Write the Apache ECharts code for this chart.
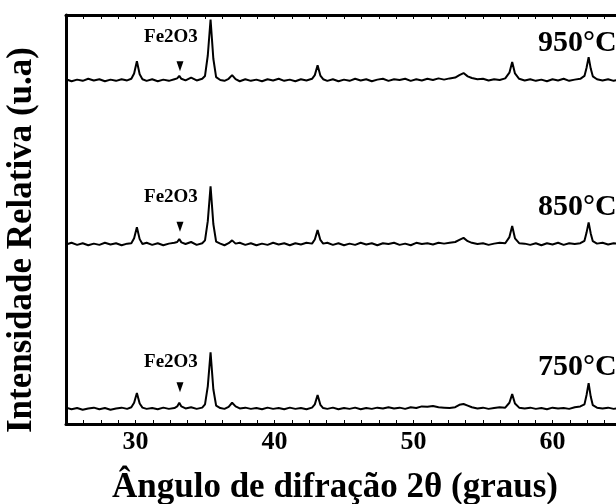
<!DOCTYPE html>
<html>
<head>
<meta charset="utf-8">
<script src="https://cdn.jsdelivr.net/npm/echarts@6/dist/echarts.min.js"></script>
<style>
  html, body { margin: 0; background: #fff; }
  #chart { width: 616px; height: 504px; }
</style>
</head>
<body>
<div id="chart"></div>
<script>
// 2theta (degrees), shared by the three patterns
const angles = [
    25.0, 25.4, 25.8, 26.2, 26.6, 27.0, 27.4, 27.8, 28.2, 28.6,
    29.0, 29.4, 29.7, 29.9, 30.1, 30.3, 30.5, 30.8, 31.2, 31.6,
    32.0, 32.4, 32.8, 33.0, 33.15, 33.3, 33.6, 34.0, 34.4, 34.8,
    35.0, 35.2, 35.4, 35.6, 35.8, 36.1, 36.4, 36.7, 36.95, 37.2,
    37.5, 37.9, 38.3, 38.7, 39.1, 39.5, 39.9, 40.3, 40.7, 41.1,
    41.5, 41.9, 42.3, 42.7, 42.9, 43.1, 43.3, 43.5, 43.8, 44.2,
    44.6, 45.0, 45.4, 45.8, 46.2, 46.6, 47.0, 47.4, 47.8, 48.2,
    48.6, 49.0, 49.4, 49.8, 50.2, 50.6, 51.0, 51.4, 51.8, 52.2,
    52.6, 53.0, 53.3, 53.6, 53.9, 54.2, 54.6, 55.0, 55.4, 55.8,
    56.2, 56.6, 56.9, 57.1, 57.3, 57.6, 58.0, 58.4, 58.8, 59.2,
    59.6, 60.0, 60.4, 60.8, 61.2, 61.6, 62.0, 62.3, 62.45, 62.6,
    62.75, 62.9, 63.2, 63.6, 64.0, 64.4, 64.8
];

// relative intensity (u.a), measured above each pattern's baseline
const int950 = [
    0.2, -0.3, 0.1, -0.2, 0.3, -0.1, 0.2, -0.3, 0.1, -0.2,
    0.2, -0.1, 0.3, 1.6, 4.6, 1.4, 0.2, -0.2, 0.2, -0.3,
    0.1, -0.2, 0.2, 0.4, 1.0, 0.3, -0.1, 0.6, -0.1, 0.3,
    1.0, 6.0, 14.8, 5.2, 0.7, 0.0, -0.2, 0.3, 1.2, 0.2,
    -0.3, 0.2, -0.2, 0.1, -0.3, 0.2, -0.1, 0.3, -0.2, 0.1,
    -0.3, 0.2, -0.1, 0.3, 1.2, 3.6, 1.1, 0.2, -0.2, 0.2,
    -0.3, 0.1, -0.2, 0.3, -0.1, 0.2, -0.3, 0.1, 0.3, -0.2,
    0.2, 0.0, 0.3, -0.2, 0.2, -0.1, 0.3, 0.0, 0.4, 0.1,
    0.4, 0.6, 1.2, 1.7, 0.9, 0.5, 0.2, 0.3, -0.1, 0.2,
    0.0, 0.4, 1.8, 4.4, 1.6, 0.3, -0.1, 0.2, -0.2, 0.1,
    -0.3, 0.2, -0.1, 0.3, -0.2, 0.1, 0.3, 1.0, 3.0, 5.6,
    2.8, 0.9, 0.2, -0.1, 0.2, -0.2, 0.1
];
const int850 = [
    -0.1, 0.3, -0.2, 0.2, -0.3, 0.1, -0.2, 0.3, -0.1, 0.2,
    -0.3, 0.1, 0.2, 1.4, 4.1, 1.2, 0.0, 0.3, -0.2, 0.2,
    -0.3, 0.1, 0.3, 0.5, 1.2, 0.4, 0.0, 0.5, -0.2, 0.2,
    0.9, 5.6, 14.1, 4.9, 0.6, 0.1, -0.3, 0.2, 0.9, 0.1,
    0.3, -0.2, 0.2, -0.3, 0.1, -0.2, 0.3, -0.1, 0.2, -0.3,
    0.2, -0.1, 0.3, 0.1, 1.1, 3.4, 1.0, 0.1, 0.3, -0.2,
    0.2, -0.3, 0.1, -0.2, 0.3, -0.1, 0.2, -0.3, 0.2, 0.0,
    0.3, -0.2, 0.1, -0.3, 0.3, 0.0, 0.2, -0.1, 0.3, 0.1,
    0.3, 0.5, 1.0, 1.5, 0.7, 0.3, 0.0, 0.2, -0.2, 0.1,
    0.3, 0.2, 1.7, 4.4, 1.4, 0.2, 0.1, -0.2, 0.2, -0.3,
    0.2, -0.1, 0.3, -0.2, 0.2, 0.0, 0.2, 0.8, 2.8, 5.3,
    2.6, 0.7, 0.1, 0.3, -0.1, 0.2, 0.0
];
const int750 = [
    0.3, -0.1, 0.2, -0.2, 0.1, 0.3, -0.1, 0.2, -0.2, 0.1,
    0.3, 0.0, 0.4, 1.5, 3.9, 1.3, 0.3, 0.0, 0.2, -0.1,
    0.3, 0.0, 0.2, 0.6, 1.5, 0.6, 0.1, 0.4, 0.0, 0.3,
    1.1, 5.5, 13.8, 4.8, 0.8, 0.2, 0.0, 0.5, 1.5, 0.6,
    0.1, 0.3, 0.0, 0.2, -0.1, 0.3, 0.0, 0.2, -0.1, 0.3,
    0.0, 0.2, -0.1, 0.3, 1.1, 3.4, 1.0, 0.2, 0.0, 0.3,
    -0.1, 0.2, 0.0, 0.3, -0.1, 0.2, 0.0, 0.3, 0.1, 0.4,
    0.1, 0.3, 0.0, 0.4, 0.2, 0.6, 0.5, 0.7, 0.4, 0.3,
    0.2, 0.4, 1.0, 1.2, 0.8, 0.4, 0.1, 0.3, 0.0, 0.2,
    0.4, 0.3, 1.5, 3.6, 1.3, 0.3, 0.1, 0.3, 0.0, 0.2,
    -0.1, 0.3, 0.1, 0.2, 0.0, 0.4, 0.6, 1.1, 3.4, 6.3,
    3.0, 0.9, 0.3, 0.1, 0.3, 0.0, 0.2
];

const temperatures = ['950°C', '850°C', '750°C'];
const baselines = [84.1, 44.0, 3.7]; // vertical stacking of the patterns
// annotations: Fe2O3 arrow, its label, and the temperature tags
const feArrows = [[33.2, 87.5], [33.2, 48.2], [33.2, 9.0]];
const feLabels = [[32.55, 94.6], [32.55, 55.5], [32.55, 15.2]];
const tempLabels = [[58.96, 93.2], [58.96, 53.1], [58.96, 13.9]];

const SERIF = '"Liberation Serif", "Times New Roman", serif';

const chart = echarts.init(document.getElementById('chart'));

const traces = [int950, int850, int750].map((vals, i) => ({
    type: 'line',
    name: temperatures[i],
    data: angles.map((a, j) => [a, vals[j] + baselines[i]]),
    showSymbol: false,
    silent: true,
    lineStyle: { color: '#000', width: 2 },
}));

const xBase = {
    type: 'value',
    min: 25,
    max: 65,
    interval: 5,
    axisLine: { show: true, lineStyle: { color: '#000', width: 3 } },
    axisTick: { show: true, inside: true, length: 4, lineStyle: { color: '#000', width: 1 } },
    minorTick: { show: true, splitNumber: 4, length: 4, lineStyle: { color: '#000', width: 1 } },
    splitLine: { show: false },
};

const labelText = {
    color: '#000',
    fontFamily: SERIF,
    fontWeight: 'bold',
};

const option = {
    animation: false,
    backgroundColor: '#fff',
    grid: { left: 66, right: -6, top: 15, bottom: 80, containLabel: false, outerBoundsMode: 'none' },
    xAxis: [
        {
            ...xBase,
            position: 'bottom',
            axisLabel: {
                ...labelText,
                margin: 5,
                fontSize: 26,
                formatter: (v) => (v % 10 === 0 ? String(v) : ''),
            },
        },
        {
            ...xBase,
            position: 'top',
            axisLabel: { show: false },
        },
    ],
    yAxis: {
        type: 'value',
        min: 0,
        max: 100,
        axisLine: { show: true, lineStyle: { color: '#000', width: 3 } },
        axisTick: { show: false },
        axisLabel: { show: false },
        splitLine: { show: false },
    },
    series: [
        ...traces,
        {
            type: 'scatter',
            data: feArrows,
            symbol: 'triangle',
            symbolRotate: 180,
            symbolSize: [7, 10],
            silent: true,
            itemStyle: { color: '#000', opacity: 1 },
        },
        {
            type: 'scatter',
            data: feLabels,
            symbolSize: 0,
            silent: true,
            itemStyle: { opacity: 1 },
            label: {
                ...labelText,
                show: true,
                position: 'inside',
                formatter: 'Fe2O3',
                fontSize: 19,
            },
        },
        {
            type: 'scatter',
            data: tempLabels,
            symbolSize: 0,
            silent: true,
            itemStyle: { opacity: 1 },
            label: {
                ...labelText,
                show: true,
                position: 'right',
                distance: 0,
                formatter: (p) => temperatures[p.dataIndex],
                fontSize: 30,
            },
        },
    ],
    graphic: [
        {
            type: 'text',
            x: 22,
            y: 240,
            rotation: Math.PI / 2,
            style: {
                text: 'Intensidade Relativa (u.a)',
                fill: '#000',
                font: 'bold 35px ' + SERIF,
                align: 'center',
                verticalAlign: 'middle',
            },
        },
        {
            type: 'text',
            x: 335,
            y: 488,
            style: {
                text: 'Ângulo de difração 2θ (graus)',
                fill: '#000',
                font: 'bold 35px ' + SERIF,
                align: 'center',
                verticalAlign: 'middle',
            },
        },
    ],
};

chart.setOption(option);
</script>
</body>
</html>
